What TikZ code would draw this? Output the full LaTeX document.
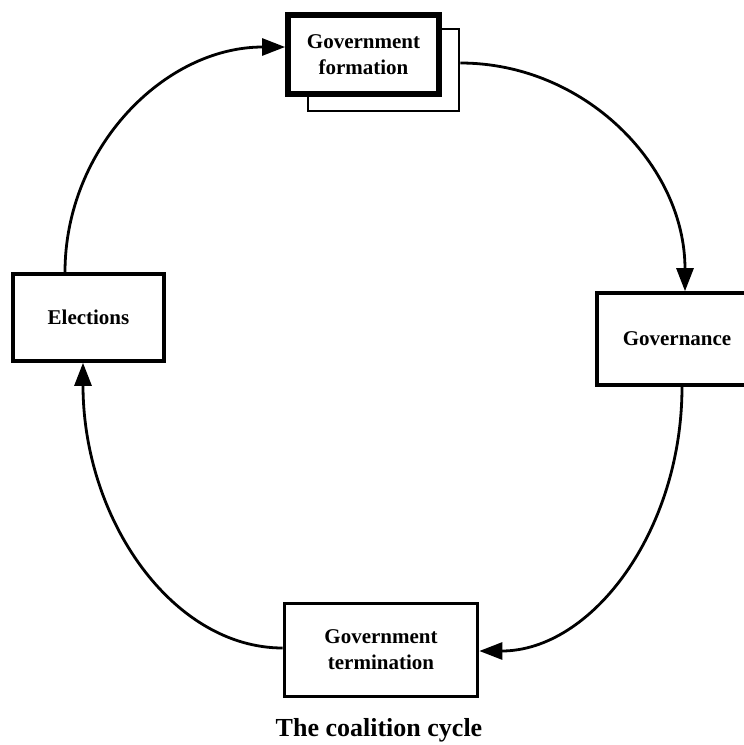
\documentclass[tikz,border=0pt]{standalone}
\usepackage{fontspec}
\setmainfont{Liberation Serif}
\usetikzlibrary{arrows.meta}
\begin{document}
\begin{tikzpicture}[x=1pt,y=-1pt,
  boxtxt/.style={font=\bfseries\fontsize{21}{26}\selectfont, align=center, inner sep=0pt},
  stagebox/.style={boxtxt, draw, fill=white, line width=3.6pt},
  flow/.style={line width=2.8pt, -{Triangle[length=23pt,width=17pt]}}
]
\useasboundingbox (0,0) rectangle (744,745);
% back (shadow) box of government formation
\node[draw, line width=2.8pt, minimum width=151pt, minimum height=82pt, inner sep=0pt] (gb) at (383.5,70) {};
\node[boxtxt, draw, fill=white, line width=5.8pt, minimum width=151pt, minimum height=79pt] (gf) at (363.5,54.5) {Government\\formation};
\node[stagebox, minimum width=151pt, minimum height=87pt] (el) at (88.5,317.5) {Elections};
\node[stagebox, minimum width=160pt, minimum height=92pt] (gv) at (677,339) {Governance};
\node[stagebox, minimum width=193pt, minimum height=93pt] (gt) at (381,650) {Government\\termination};
\node[font=\bfseries\fontsize{26}{30}\selectfont, inner sep=0pt] (cap) at (379,730) {The coalition cycle};

\draw[flow] ([xshift=-23.5pt]el.north) .. controls +(0,-124) and +(-121,0) .. ([yshift=7.5pt]gf.west);
\draw[flow] ([yshift=7pt]gb.east) .. controls +(124,0) and +(0,-126) .. ([xshift=8pt]gv.north);
\draw[flow] ([xshift=5pt]gv.south) .. controls +(0,145) and +(112,0) .. ([yshift=-1pt]gt.east);
\draw[flow] ([yshift=2pt]gt.west) .. controls +(-110,0) and +(0,157) .. ([xshift=-5.5pt]el.south);
\end{tikzpicture}
\end{document}
